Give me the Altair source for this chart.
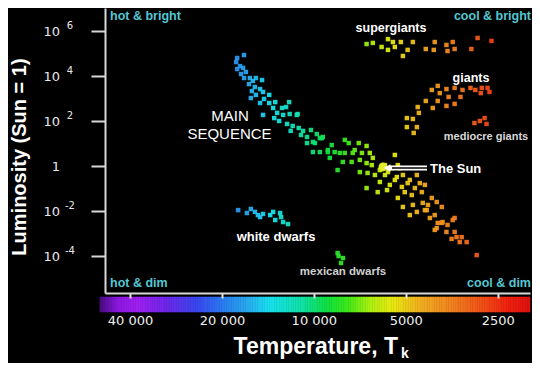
import altair as alt
import numpy as np
import pandas as pd

# ---------------- data (temperature in K, log10 luminosity, Sun = 1) ----------------
ms_T = [17830, 16930, 17970, 17450, 17830, 17060, 17320, 16700, 16930, 16200,
        15840, 15480, 14780, 16310, 15600, 15960, 15000, 16080, 15480, 14670,
        14560, 14000, 15000, 14000, 13590, 14670, 12710, 12050, 13190, 12610,
        12990, 12000, 11300, 12240, 11730, 11210, 11910, 10850, 10220, 11020,
        10530, 9780, 9560, 10070, 13380, 12330, 11380, 13480, 10530, 9920,
        9420, 10070, 9560, 9000, 8740, 8550, 8220, 7690, 7130, 6720,
        7920, 7460, 6960, 6560, 8040, 7520, 7070, 6720, 6410, 8360,
        7070, 6670, 6080, 5430, 5720, 5350, 5760, 6720, 5310, 9350,
        9000, 6310, 5850, 5430, 5310, 5150, 5110, 4930, 4780, 4600,
        4740, 4500, 4430, 4600, 4400, 4270, 4110, 3960, 4170, 4020,
        3810, 3930, 4020, 3790, 3650, 3510, 3680, 3460, 3280, 3540,
        3330, 3160, 2930, 4850, 5640, 5040, 4670, 4330, 4850, 4330,
        3810, 3410, 4230, 3460, 5110, 3960, 6080, 5560, 6460, 7350,
        8870, 5850, 6180, 5230, 7920]
ms_logL = [4.80, 4.93, 4.62, 4.44, 4.31, 4.36, 4.09, 4.18, 3.91, 3.91,
           3.78, 3.91, 3.82, 3.64, 3.51, 3.33, 3.42, 3.02, 3.16, 3.29,
           2.98, 3.16, 2.80, 2.80, 2.58, 2.27, 2.58, 2.84, 2.36, 2.27,
           2.00, 2.31, 2.31, 1.87, 1.78, 1.69, 1.56, 1.56, 1.60, 1.38,
           1.29, 1.42, 1.24, 1.07, 2.84, 2.62, 2.27, 2.13, 1.02, 1.02,
           1.24, 0.62, 0.62, 0.62, 0.93, 0.62, 0.58, 1.02, 1.02, 0.89,
           0.58, 0.58, 0.58, 0.58, 0.18, 0.18, 0.27, 0.13, 0.36, -0.18,
           -0.27, -0.31, -0.71, 0.49, -0.27, -0.49, -1.07, -0.98, 0.04, 1.29,
           0.71, -0.40, 0.04, -0.62, -1.42, -0.93, -0.40, -0.76, -1.29, -0.40,
           -1.73, -0.76, -1.16, -2.04, -1.64, -1.96, -1.42, -1.60, -2.31, -2.18,
           -1.82, -2.53, -2.84, -2.49, -2.62, -2.40, -2.93, -2.93, -3.16, -3.24,
           -3.38, -3.38, -3.96, -0.62, -0.84, -1.16, -0.98, -0.84, -2.18, -1.96,
           -2.53, -3.16, -1.73, -2.31, -1.82, -2.76, -0.18, -0.09, 0.04, 0.71,
           0.36, -0.40, -1.16, -0.09, 1.16]

sg_T = [6720, 6410, 6000, 5720, 5510, 5720, 5430, 5190, 5110, 4930, 4740,
        4300, 4020, 4050, 3680, 3650, 3510, 3460, 3050, 2910, 2620]
sg_logL = [5.42, 5.47, 5.29, 5.64, 5.51, 5.16, 5.29, 5.51, 4.89, 5.16, 5.51,
           5.20, 5.51, 5.16, 5.38, 5.11, 5.51, 5.20, 5.20, 5.69, 5.56]

gi_T = [4110, 3930, 3870, 3680, 3620, 3460, 3310, 3260, 3070, 2960, 2820, 2840, 2700,
        2660, 4300, 3930, 3680, 3460, 4080, 4570, 4530, 4960, 4740, 4960, 4600, 4710]
gi_logL = [3.38, 3.56, 3.24, 3.42, 3.07, 3.47, 3.07, 3.38, 3.47, 3.38, 3.47, 3.24, 3.47,
           3.29, 2.89, 2.89, 2.67, 2.76, 2.58, 2.62, 2.36, 2.13, 2.09, 1.73, 1.73, 1.47]

mg_T = [2980, 2860, 2760, 2720]
mg_logL = [1.91, 2.00, 2.13, 1.87]

wd_T = [17700, 16570, 16080, 15600, 15250, 14670, 13900, 13590, 12900, 12800,
        13380, 12610, 12150, 15000]
wd_logL = [-1.96, -2.09, -1.91, -2.04, -2.18, -2.13, -2.18, -2.04, -2.09, -2.27,
           -2.40, -2.49, -2.58, -2.27]

md_T = [8360, 8030, 8150, 8300]
md_logL = [-3.87, -4.09, -4.31, -4.00]

sun_T = [5940]
sun_logL = [-0.04]

# axis ticks
x_tick_vals = [40000, 20000, 10000, 5000, 2500]
x_tick_text = ["40 000", "20 000", "10 000", "5000", "2500"]
y_tick_vals = [6, 4, 2, 0, -2, -4]
y_tick_base = ["10", "10", "10", "1", "10", "10"]
y_tick_sup = ["6", "4", "2", "", "-2", "-4"]

# colour stops of the temperature bar
cb_T = [1900, 2300, 2800, 3500, 4500, 5500, 6500, 7700, 9000, 11000,
        14000, 16500, 19000, 24000, 30000, 38000, 44000, 51000]
cb_col = ["#d81010", "#f02010", "#f05018", "#f08020", "#f0b020", "#e8e810",
          "#b0f010", "#40e818", "#10e040", "#10e0a8", "#18e0f0", "#2aa8ee",
          "#2888f0", "#3848f0", "#6a28e8", "#a020f0", "#8a18e0", "#3c0c6c"]

# ---------------- tables ----------------
groups = [("main sequence", ms_T, ms_logL), ("supergiants", sg_T, sg_logL),
          ("giants", gi_T, gi_logL), ("mediocre giants", mg_T, mg_logL),
          ("white dwarfs", wd_T, wd_logL), ("mexican dwarfs", md_T, md_logL)]
stars = pd.concat([pd.DataFrame({"T": t, "logL": l, "group": g}) for g, t, l in groups],
                  ignore_index=True)
sun = pd.DataFrame({"T": sun_T, "logL": sun_logL})

edges = np.geomspace(50200, 1960, 181)
cbar_df = pd.DataFrame({"T": edges[:-1], "T1": edges[1:], "Tm": np.sqrt(edges[:-1] * edges[1:])})

yt_df = pd.DataFrame({"logL": y_tick_vals, "base": y_tick_base, "sup": y_tick_sup})

# ---------------- scales / axes ----------------
x_scale = alt.Scale(type="log", domain=[1960, 48300], reverse=True, nice=False)
y_scale = alt.Scale(domain=[-5.644, 7.022], zero=False, nice=False)
c_scale = alt.Scale(type="log", domain=cb_T, range=cb_col, interpolate="rgb")

label_expr = " : ".join(f"datum.value == {v} ? '{t}'" for v, t in zip(x_tick_vals, x_tick_text)) + " : ''"

x_axis = alt.Axis(values=x_tick_vals, labelExpr=label_expr, title=None, grid=False,
                  tickSize=5, tickWidth=2, tickColor="#e6e6e6", domainColor="#d8d8d8",
                  domainWidth=2, labelColor="#f0f0f0", labelFont="DejaVu Sans",
                  labelFontSize=13, labelPadding=16, labelOverlap=False, labelFlush=False,
                  zindex=1)
y_axis = alt.Axis(values=y_tick_vals, labels=False, title=None, grid=False,
                  tickSize=14, tickWidth=2, tickColor="#d8d8d8", domainColor="#d8d8d8",
                  domainWidth=2, zindex=1)

X = alt.X("T:Q", scale=x_scale, axis=x_axis)
Y = alt.Y("logL:Q", scale=y_scale, axis=y_axis)

cbar = alt.Chart(cbar_df).mark_rect(strokeWidth=0.6).encode(
    x=X, x2="T1:Q",
    y=alt.value(289), y2=alt.value(304),
    color=alt.Color("Tm:Q", scale=c_scale, legend=None),
    stroke=alt.Color("Tm:Q", scale=c_scale, legend=None),
)

pts = alt.Chart(stars).mark_square(size=20, opacity=0.95).encode(
    x=X, y=Y, color=alt.Color("T:Q", scale=c_scale, legend=None)
)

sun_pt = alt.Chart(sun).mark_circle(size=80, color="#e2ee2a", opacity=1).encode(x=X, y=Y)

ytick_base = alt.Chart(yt_df).mark_text(align="right", baseline="middle", dy=1, fontSize=13,
                                        font="DejaVu Sans", color="#e8e8e8").encode(
    x=alt.value(-45), y=Y, text="base:N")
ytick_sup = alt.Chart(yt_df).mark_text(align="center", baseline="middle", dy=-5, fontSize=10,
                                       font="DejaVu Sans", color="#e8e8e8").encode(
    x=alt.value(-35), y=Y, text="sup:N")


def label(text, x, y, size, color="white", weight="bold", align="center",
          baseline="middle", angle=0, font="Liberation Sans"):
    return alt.Chart(pd.DataFrame({"t": [text]})).mark_text(
        align=align, baseline=baseline, fontSize=size, fontWeight=weight, font=font,
        color=color, angle=angle).encode(x=alt.value(x), y=alt.value(y), text="t:N")


cyan = "#55c6d2"
texts = [
    label("hot & bright", 5, 8, 12.5, cyan, align="left"),
    label("cool & bright", 426, 8, 12.5, cyan, align="right"),
    label("hot & dim", 5, 275, 12.5, cyan, align="left"),
    label("cool & dim", 426, 275, 12.5, cyan, align="right"),
    label("supergiants", 286, 20, 12.5),
    label("giants", 366, 70, 12.5),
    label("mediocre giants", 381, 129, 11, "#d8d8d8"),
    label("MAIN", 125, 108, 15, weight="normal"),
    label("SEQUENCE", 124.5, 126, 15, weight="normal"),
    label("The Sun", 325, 161, 13, align="left"),
    label("white dwarfs", 171, 229, 13),
    label("mexican dwarfs", 238, 264, 11.5, "#d0d0d0"),
    label("Luminosity  (Sun = 1)", -85, 149, 20, angle=270),
    label("Temperature, T", 293, 346, 23, align="right", baseline="alphabetic"),
    label("k", 296, 350, 14, align="left", baseline="alphabetic"),
]

one = pd.DataFrame({"a": [0]})
arrow_outer = alt.Chart(one).mark_rule(color="white", strokeWidth=5).encode(
    x=alt.value(285), x2=alt.value(322), y=alt.value(160))
arrow_inner = alt.Chart(one).mark_rule(color="black", strokeWidth=1.6).encode(
    x=alt.value(287), x2=alt.value(322), y=alt.value(160))
arrow_head = alt.Chart(one).mark_point(shape="triangle-left", filled=True, color="white",
                                       size=60, opacity=1).encode(
    x=alt.value(282), y=alt.value(160))

chart = alt.layer(cbar, pts, sun_pt, ytick_base, ytick_sup, arrow_outer, arrow_inner,
                  arrow_head, *texts).properties(
    width=425, height=285,
    autosize=alt.AutoSizeParams(type="none"),
    padding={"left": 97, "top": 0, "right": 2, "bottom": 70},
    background="black",
).configure_view(strokeWidth=0)

chart.save("out.html", embed_options={"renderer": "svg", "actions": False})
